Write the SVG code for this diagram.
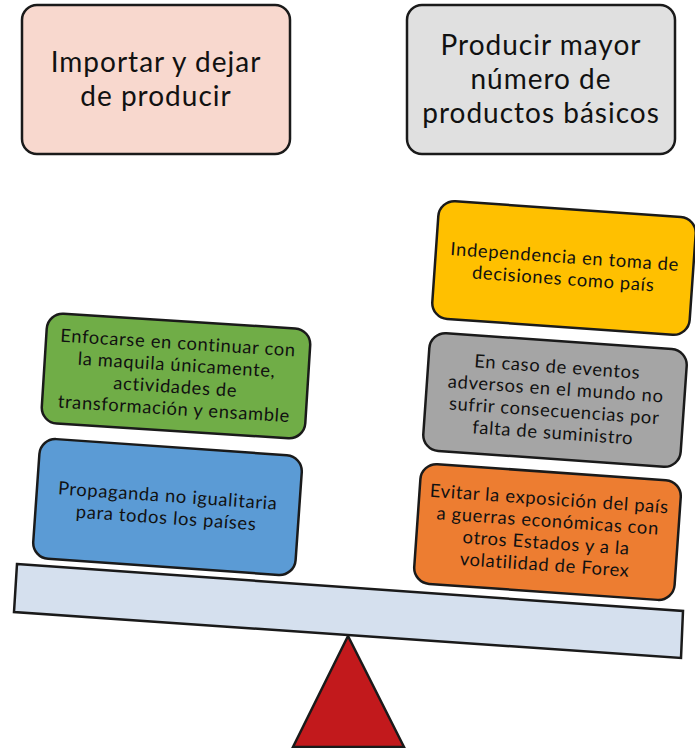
<svg xmlns="http://www.w3.org/2000/svg" width="695" height="748" viewBox="0 0 695 748">
<style>
.box{stroke:#1a1a1a;stroke-width:2.5}
.t{font-family:Lato,"Open Sans",sans-serif;fill:#111;text-anchor:middle}
.big{font-size:28px;letter-spacing:1px}
.sm{font-size:18.3px;letter-spacing:0.7px}
</style>
<rect width="695" height="748" fill="#ffffff"/>
<g id="top-left">
<rect class="box" x="22" y="5" width="268" height="149" rx="15" fill="#F8D8CE"/>
<text class="t big" x="156" y="72">Importar y dejar</text>
<text class="t big" x="156" y="106">de producir</text>
</g>
<g id="top-right">
<rect class="box" x="407" y="5" width="268" height="149" rx="15" fill="#E0E0E0"/>
<text class="t big" x="541" y="55">Producir mayor</text>
<text class="t big" x="541" y="89">número de</text>
<text class="t big" x="541" y="123">productos básicos</text>
</g>
<g id="pivot">
<polygon points="348,636 293,747 404,747" fill="#C2191C" stroke="#1a1a1a" stroke-width="2.5" stroke-linejoin="miter"/>
</g>
<g id="beam">
<polygon points="17,564 683,611 681,658 14,612" fill="#D5E0EE" stroke="#1a1a1a" stroke-width="2.5"/>
</g>
<g id="green" transform="translate(176,376) rotate(3.6)">
<rect class="box" x="-132" y="-55" width="264" height="110" rx="16" fill="#70AD47"/>
<text class="t sm" y="-27">Enfocarse en continuar con</text>
<text class="t sm" y="-5">la maquila únicamente,</text>
<text class="t sm" y="17">actividades de</text>
<text class="t sm" y="39">transformación y ensamble</text>
</g>
<g id="blue" transform="translate(167,507) rotate(4)">
<rect class="box" x="-131" y="-60" width="263" height="120" rx="16" fill="#5B9BD5"/>
<text class="t sm" y="-5">Propaganda no igualitaria</text>
<text class="t sm" y="17">para todos los países</text>
</g>
<g id="yellow" transform="translate(564,268) rotate(4)">
<rect class="box" x="-129" y="-59" width="258" height="118" rx="16" fill="#FFC000"/>
<text class="t sm" y="-5">Independencia en toma de</text>
<text class="t sm" y="17">decisiones como país</text>
</g>
<g id="gray" transform="translate(555,400) rotate(4)">
<rect class="box" x="-129" y="-59" width="258" height="118" rx="16" fill="#A5A5A5"/>
<text class="t sm" y="-27">En caso de eventos</text>
<text class="t sm" y="-5">adversos en el mundo no</text>
<text class="t sm" y="17">sufrir consecuencias por</text>
<text class="t sm" y="39">falta de suministro</text>
</g>
<g id="orange" transform="translate(547,532) rotate(4)">
<rect class="box" x="-130" y="-60" width="261" height="120" rx="16" fill="#ED7D31"/>
<text class="t sm" y="-27">Evitar la exposición del país</text>
<text class="t sm" y="-5">a guerras económicas con</text>
<text class="t sm" y="17">otros Estados y a la</text>
<text class="t sm" y="39">volatilidad de Forex</text>
</g>
</svg>
